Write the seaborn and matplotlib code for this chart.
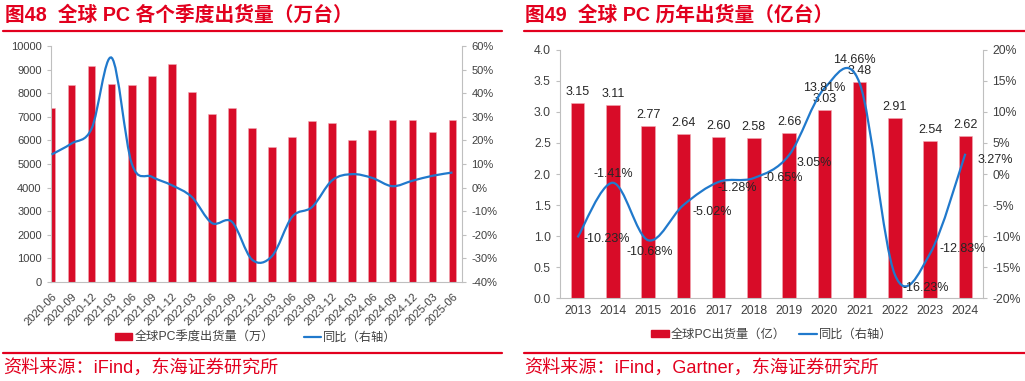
import numpy as np
import matplotlib
matplotlib.use('Agg')
import matplotlib.pyplot as plt
import seaborn as sns
from matplotlib.path import Path
from matplotlib.patches import PathPatch, Patch
from matplotlib.lines import Line2D

# 图48 季度数据
quarters = ['2020-06', '2020-09', '2020-12', '2021-03', '2021-06', '2021-09', '2021-12',
            '2022-03', '2022-06', '2022-09', '2022-12', '2023-03', '2023-06', '2023-09',
            '2023-12', '2024-03', '2024-06', '2024-09', '2024-12', '2025-03', '2025-06']
q_ship = [7370, 8345, 9150, 8373, 8345, 8727, 9236, 8048, 7100, 7370, 6535,
          5700, 6139, 6818, 6719, 6025, 6421, 6874, 6874, 6337, 6846]
q_yoy = [14.0, 18.7, 25.0, 55.0, 10.2, 4.6, 1.0, -4.0, -15.0, -14.5, -30.5,
         -29.0, -12.4, -8.2, 3.1, 5.7, 4.1, 0.6, 2.9, 5.0, 6.4]

# 图49 年度数据
years = ['2013', '2014', '2015', '2016', '2017', '2018', '2019', '2020', '2021', '2022', '2023', '2024']
y_ship = [3.15, 3.11, 2.77, 2.64, 2.60, 2.58, 2.66, 3.03, 3.48, 2.91, 2.54, 2.62]
y_yoy = [-10.23, -1.41, -10.68, -5.02, -1.28, -0.65, 3.05, 13.81, 14.66, -16.23, -12.83, 3.27]

RED = '#D80C28'
TRED = '#E2001E'
BLUE = '#2079CC'
GRAY = '#BFBFBF'
TXT = '#404040'

sns.set_style('white')
plt.rcParams['font.family'] = ['Liberation Sans', 'Noto Sans CJK SC', 'DejaVu Sans']
plt.rcParams['axes.unicode_minus'] = False


def smooth_path(ax, ys):
    # 平滑曲线 (Catmull-Rom -> Bezier)
    xs = np.arange(len(ys), dtype=float)
    pts = np.column_stack([xs, np.asarray(ys, dtype=float)])
    verts = [pts[0]]
    codes = [Path.MOVETO]
    n = len(pts)
    for i in range(n - 1):
        p0 = pts[i - 1] if i > 0 else pts[i]
        p1 = pts[i]
        p2 = pts[i + 1]
        p3 = pts[i + 2] if i + 2 < n else pts[i + 1]
        c1 = p1 + (p2 - p0) / 6
        c2 = p2 - (p3 - p1) / 6
        verts += [c1, c2, p2]
        codes += [Path.CURVE4] * 3
    ax.add_patch(PathPatch(Path(verts, codes), facecolor='none', edgecolor=BLUE, lw=1.6, zorder=3))


def style_axes(ax, ax2):
    for s in ['top', 'right']:
        ax.spines[s].set_visible(False)
    for s in ['top', 'left', 'bottom']:
        ax2.spines[s].set_visible(False)
    for s in ['left', 'bottom']:
        ax.spines[s].set_color(GRAY)
        ax.spines[s].set_linewidth(0.8)
    ax2.spines['right'].set_color(GRAY)
    ax2.spines['right'].set_linewidth(0.8)
    ax.tick_params(axis='both', colors=GRAY, labelcolor=TXT, length=3, width=0.8)
    ax2.tick_params(axis='y', colors=GRAY, labelcolor=TXT, length=3, width=0.8)
    ax.set_xlabel('')
    ax.set_ylabel('')


fig = plt.figure(figsize=(10.25, 3.81), dpi=100)

# ---------- 左图 ----------
ax = fig.add_axes([0.0495, 0.2598, 0.4017, 0.6195])
sns.barplot(x=quarters, y=q_ship, ax=ax, color=RED, width=0.38, saturation=1,
            edgecolor='#F2AAB4', linewidth=0.4)
ax.set_ylim(0, 10000)
ax.set_yticks(range(0, 10001, 1000))
ax.set_xlim(-0.04, 20.5)
ax.tick_params(axis='x', labelsize=8, rotation=45)
ax.tick_params(axis='y', labelsize=8)
for lab in ax.get_xticklabels():
    lab.set_ha('right')
    lab.set_rotation_mode('anchor')
ax2 = ax.twinx()
ax2.set_ylim(-40, 60)
ax2.set_yticks(range(-40, 61, 10))
ax2.set_yticklabels([f'{v}%' for v in range(-40, 61, 10)])
ax2.tick_params(axis='y', labelsize=8)
smooth_path(ax2, q_yoy)
style_axes(ax, ax2)

fig.legend(handles=[Patch(color=RED, label='全球PC季度出货量（万）'),
                    Line2D([], [], color=BLUE, lw=1.6, label='同比（右轴）')],
           loc='center', bbox_to_anchor=(256 / 1025, 1 - 338 / 381), ncol=2, frameon=False,
           fontsize=8.8, handlelength=1.4, handleheight=0.5, handletextpad=0.2,
           columnspacing=2.4, labelcolor=TXT)

# ---------- 右图 ----------
bx = fig.add_axes([0.5463, 0.2178, 0.4127, 0.651])
sns.barplot(x=years, y=y_ship, ax=bx, color=RED, width=0.38, saturation=1,
            edgecolor='#F2AAB4', linewidth=0.4)
bx.set_ylim(0, 4.0)
bx.set_yticks(np.arange(0, 4.01, 0.5))
bx.set_yticklabels([f'{v:.1f}' for v in np.arange(0, 4.01, 0.5)])
bx.set_xlim(-0.5, 11.5)
bx.set_xticks(np.arange(-0.5, 11.6, 1.0), minor=True)
bx.tick_params(axis='x', which='major', length=0, labelsize=8.8, pad=5)
bx.tick_params(axis='x', which='minor', length=4, color=GRAY, width=0.8)
bx.tick_params(axis='y', labelsize=8.8)
for i, v in enumerate(y_ship):
    bx.annotate(f'{v:.2f}', (i, v), xytext=(0, 5), textcoords='offset pixels',
                ha='center', va='bottom', fontsize=9, color='#262626')
bx2 = bx.twinx()
bx2.set_ylim(-20, 20)
bx2.set_yticks(range(-20, 21, 5))
bx2.set_yticklabels([f'{v}%' for v in range(-20, 21, 5)])
bx2.tick_params(axis='y', labelsize=8.8)
smooth_path(bx2, y_yoy)
style_axes(bx, bx2)
bx.tick_params(axis='x', which='major', length=0)

offs = [(6, -2, 'left'), (0, 9, 'center'), (2, -12, 'center'), (9, -7, 'left'),
        (-1, -6, 'left'), (10, 0, 'left'), (7, -8, 'left'), (0, 0, 'center'),
        (-5, 23, 'center'), (8, -13, 'left'), (9, 5, 'left'), (12, -6, 'left')]
for i, v in enumerate(y_yoy):
    dx, dy, ha = offs[i]
    bx2.annotate(f'{v:.2f}%', (i, v), xytext=(dx, dy), textcoords='offset pixels',
                 ha=ha, va='center', fontsize=9, color='#262626', zorder=4)

fig.legend(handles=[Patch(color=RED, label='全球PC出货量（亿）'),
                    Line2D([], [], color=BLUE, lw=1.6, label='同比（右轴）')],
           loc='center', bbox_to_anchor=(772 / 1025, 1 - 335 / 381), ncol=2, frameon=False,
           fontsize=8.8, handlelength=1.4, handleheight=0.5, handletextpad=0.2,
           columnspacing=1.1, labelcolor=TXT)

# ---------- 标题与来源 ----------
H = 381.0
fig.text(5 / 1025, 1 - 15 / H, '图48  全球 PC 各个季度出货量（万台）', color=TRED,
         fontsize=14.2, fontweight='bold', va='center', ha='left')
fig.text(525 / 1025, 1 - 15 / H, '图49  全球 PC 历年出货量（亿台）', color=TRED,
         fontsize=14.2, fontweight='bold', va='center', ha='left')
for x0, x1 in [(3, 502), (524, 1025)]:
    fig.add_artist(Line2D([x0 / 1025, x1 / 1025], [1 - 31 / H] * 2, color=TRED, lw=1.6))
    fig.add_artist(Line2D([x0 / 1025, x1 / 1025], [1 - 353 / H] * 2, color=TRED, lw=1.6))
fig.text(3 / 1025, 1 - 368 / H, '资料来源：iFind，东海证券研究所', color=TRED,
         fontsize=13.1, va='center', ha='left')
fig.text(524 / 1025, 1 - 368 / H, '资料来源：iFind，Gartner，东海证券研究所', color=TRED,
         fontsize=13.1, va='center', ha='left')

fig.savefig('out.png', dpi=100)
